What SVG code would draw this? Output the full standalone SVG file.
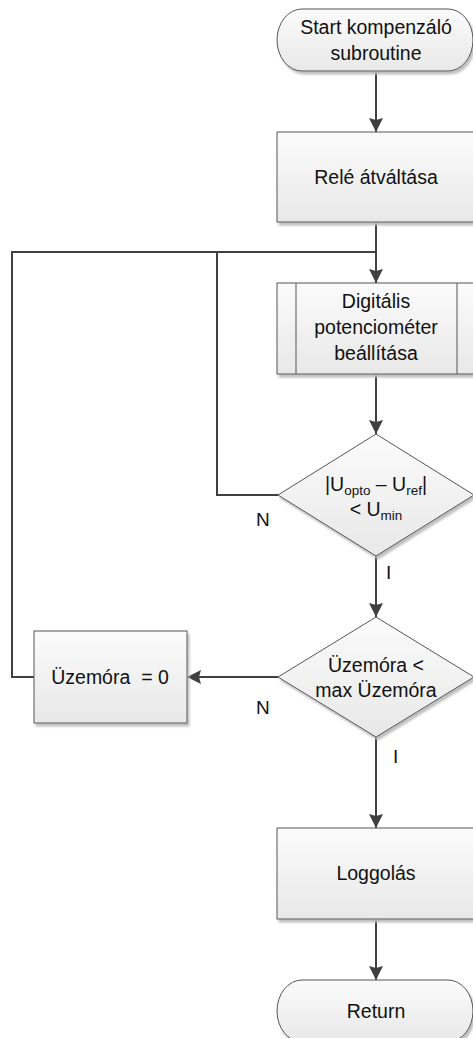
<svg xmlns="http://www.w3.org/2000/svg" width="473" height="1038" viewBox="0 0 473 1038">
  <style>
    .node { fill: url(#nodeFill); stroke: #555555; stroke-width: 1; filter: url(#shadow); }
    .inner { stroke: #555555; stroke-width: 1; fill: none; }
    .lbl { font-family: "Liberation Sans", Arial, sans-serif; font-size: 19.5px; fill: #111; text-anchor: middle; }
    .sub { font-size: 13.5px; }
    .edge { fill: none; stroke: #404040; stroke-width: 2; }
    .arrow { marker-end: url(#arrowHead); }
    .yn { font-family: "Liberation Sans", Arial, sans-serif; font-size: 19px; fill: #111; }
  </style>
  <defs>
    <linearGradient id="nodeFill" x1="0" y1="0" x2="0" y2="1">
      <stop offset="0" stop-color="#fbfbfb"/>
      <stop offset="1" stop-color="#e8e8e8"/>
    </linearGradient>
    <filter id="shadow" x="-10%" y="-10%" width="130%" height="130%">
      <feDropShadow dx="2" dy="3" stdDeviation="0.8" flood-color="#b8b8b8" flood-opacity="0.9"/>
    </filter>
    <marker id="arrowHead" markerUnits="userSpaceOnUse" markerWidth="15" markerHeight="15" refX="14" refY="7" orient="auto">
      <path d="M0,0 L14,7 L0,14 L2,7 z" fill="#404040"/>
    </marker>
  </defs>

  <!-- connectors -->
  <g id="connectors">
    <path class="edge arrow" d="M376,71 V132"/>
    <path class="edge arrow" d="M376,222 V283"/>
    <path class="edge" d="M278,495 H217 V252 H376"/>
    <path class="edge" d="M34,677 H12 V252 H217"/>
    <path class="edge arrow" d="M376,374 V434"/>
    <path class="edge arrow" d="M376,556 V617"/>
    <path class="edge arrow" d="M278,677 H187"/>
    <path class="edge arrow" d="M376,737 V828"/>
    <path class="edge arrow" d="M376,919 V980"/>
    <text class="yn" x="256" y="526">N</text>
    <text class="yn" x="386" y="579">I</text>
    <text class="yn" x="256" y="714">N</text>
    <text class="yn" x="393" y="763">I</text>
  </g>

  <g id="start">
    <rect class="node" x="277" y="9" width="196" height="62" rx="25" ry="31"/>
    <text class="lbl" x="376" y="34">Start kompenzáló</text>
    <text class="lbl" x="376" y="60">subroutine</text>
  </g>

  <g id="rele">
    <rect class="node" x="277" y="132" width="199" height="90"/>
    <text class="lbl" x="376" y="184">Relé átváltása</text>
  </g>

  <g id="potmeter">
    <rect class="node" x="277" y="283" width="199" height="91"/>
    <line class="inner" x1="296" y1="283" x2="296" y2="374"/>
    <line class="inner" x1="457" y1="283" x2="457" y2="374"/>
    <text class="lbl" x="376" y="308">Digitális</text>
    <text class="lbl" x="376" y="334">potenciométer</text>
    <text class="lbl" x="376" y="360">beállítása</text>
  </g>

  <g id="checkDiff">
    <polygon class="node" points="376,434 474,495 376,556 278,495"/>
    <text class="lbl" x="376" y="491">|U<tspan class="sub" dy="4">opto</tspan><tspan dy="-4"> – U</tspan><tspan class="sub" dy="4">ref</tspan><tspan dy="-4">|</tspan></text>
    <text class="lbl" x="376" y="516">&lt; U<tspan class="sub" dy="4">min</tspan></text>
  </g>

  <g id="checkHours">
    <polygon class="node" points="376,617 474,677 376,737 278,677"/>
    <text class="lbl" x="376" y="672">Üzemóra &lt;</text>
    <text class="lbl" x="376" y="697">max Üzemóra</text>
  </g>

  <g id="resetHours">
    <rect class="node" x="34" y="631" width="153" height="92"/>
    <text class="lbl" x="110" y="684" xml:space="preserve">Üzemóra  = 0</text>
  </g>

  <g id="logging">
    <rect class="node" x="277" y="828" width="199" height="91"/>
    <text class="lbl" x="376" y="880">Loggolás</text>
  </g>

  <g id="return">
    <rect class="node" x="277" y="980" width="196" height="62" rx="25" ry="31"/>
    <text class="lbl" x="376" y="1018">Return</text>
  </g>
</svg>
